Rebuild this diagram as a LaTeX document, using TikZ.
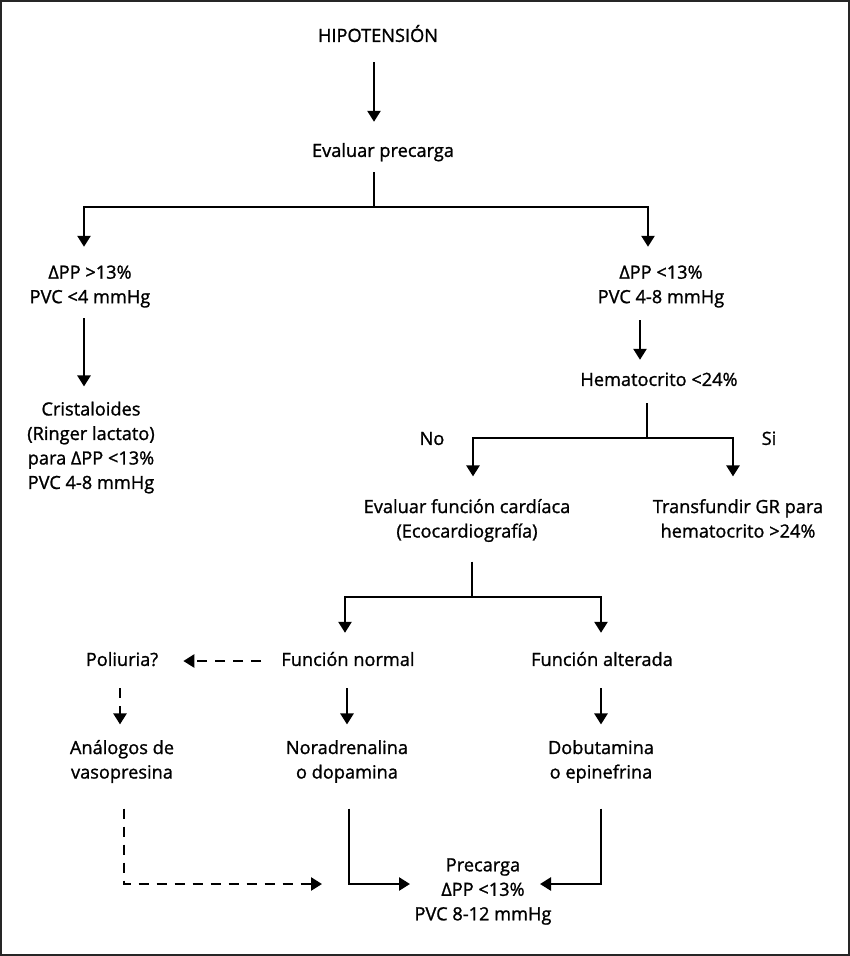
\documentclass[tikz,border=0pt]{standalone}
\usepackage{fontspec}
\setmainfont{Open Sans}[FakeBold=1.2]
\usetikzlibrary{arrows.meta,calc}
\tikzset{
  txt/.style={font=\fontsize{18.2}{24.5}\selectfont, inner sep=0pt, align=center,
    execute at begin node=\strut, execute at end node=\strut},
  ln/.style={line width=2.5pt, line join=miter},
  arr/.style={ln, -{Triangle[width=13pt,length=11pt]}},
  darr/.style={arr, dash pattern=on 10pt off 8pt},
}
\begin{document}
\begin{tikzpicture}[x=1pt,y=-1pt]
\useasboundingbox (0,0) rectangle (850,956);
\draw[line width=2pt, black!85] (1,1) rectangle (849,955);
% nodes
\node[txt] (hipo) at (378,37) {HIPOTENSIÓN};
\node[txt] (prec) at (383,152) {Evaluar precarga};
\node[txt] (left1) at (90,288) {ΔPP >13\%\\PVC <4 mmHg};
\node[txt] (right1) at (661,288) {ΔPP <13\%\\PVC 4-8 mmHg};
\node[txt] (crist) at (91,449) {Cristaloides\\(Ringer lactato)\\para ΔPP <13\%\\PVC 4-8 mmHg};
\node[txt] (hema) at (659,381) {Hematocrito <24\%};
\node[txt] (no) at (432,440) {No};
\node[txt] (si) at (769,440) {Si};
\node[txt] (evfc) at (467,522) {Evaluar función cardíaca\\(Ecocardiografía)};
\node[txt] (trans) at (738,522) {Transfundir GR para\\hematocrito >24\%};
\node[txt] (poli) at (122,661) {Poliuria?};
\node[txt] (fnorm) at (348,661) {Función normal};
\node[txt] (falt) at (602,661) {Función alterada};
\node[txt] (analog) at (122,763) {Análogos de\\vasopresina};
\node[txt] (nora) at (347,763) {Noradrenalina\\o dopamina};
\node[txt] (dobu) at (601,763) {Dobutamina\\o epinefrina};
\node[txt] (precf) at (483,893) {Precarga\\ΔPP <13\%\\PVC 8-12 mmHg};
% coordinates
\coordinate (x374) at (374,0);
\coordinate (b0) at (374,207);
\coordinate (bl) at (84,207);
\coordinate (br) at (648,207);
\coordinate (x84) at (84,0);
\coordinate (x640) at (640,0);
\coordinate (b1) at (647,438);
\coordinate (bn) at (473,438);
\coordinate (bs) at (733,438);
\coordinate (b2) at (472,597);
\coordinate (bfn) at (345,597);
\coordinate (bfa) at (601,597);
\coordinate (x347) at (347,0);
\coordinate (x601) at (601,0);
\coordinate (x120) at (120,0);
\coordinate (x124) at (124,0);
\coordinate (x349) at (349,0);
\coordinate (cd) at (124,884);
\coordinate (cn) at (349,884);
\coordinate (ca) at (601,884);
% connectors
\draw[arr] ([yshift=-12.75pt]hipo.south -| x374) -- ([yshift=17.75pt]prec.north -| x374);
\draw[ln] ([yshift=-7.75pt]prec.south -| x374) -- (b0);
\draw[arr] (b0) -- (bl) -- ([yshift=18.5pt]left1.north -| bl);
\draw[arr] (b0) -- (br) -- ([yshift=18.5pt]right1.north -| br);
\draw[arr] ([yshift=-7.5pt]left1.south -| x84) -- ([yshift=15pt]crist.north -| x84);
\draw[arr] ([yshift=-9.5pt]right1.south -| x640) -- ([yshift=8.75pt]hema.north -| x640);
\draw[ln] ([yshift=-9.75pt]hema.south -| b1) -- (b1);
\draw[arr] (b1) -- (bn) -- ([yshift=22.5pt]evfc.north -| bn);
\draw[arr] (b1) -- (bs) -- ([yshift=22.5pt]trans.north -| bs);
\draw[ln] ([yshift=-16.5pt]evfc.south -| b2) -- (b2);
\draw[arr] (b2) -- (bfn) -- ([yshift=15.75pt]fnorm.north -| bfn);
\draw[arr] (b2) -- (bfa) -- ([yshift=15.75pt]falt.north -| bfa);
\draw[darr] ([xshift=-20pt]fnorm.west) -- ([xshift=25pt]poli.east);
\draw[darr] ([yshift=-14.75pt]poli.south -| x120) -- ([yshift=15.5pt]analog.north -| x120);
\draw[arr] ([yshift=-14.75pt]fnorm.south -| x347) -- ([yshift=15.5pt]nora.north -| x347);
\draw[arr] ([yshift=-14.75pt]falt.south -| x601) -- ([yshift=15.5pt]dobu.north -| x601);
\draw[darr] ([yshift=-22.5pt]analog.south -| x124) -- (cd) -- (cd -| 322,0);
\draw[arr] ([yshift=-22.5pt]nora.south -| x349) -- (cn) -- (cn -| 410,0);
\draw[arr] ([yshift=-22.5pt]dobu.south -| x601) -- (ca) -- (ca -| 540,0);
\end{tikzpicture}
\end{document}
